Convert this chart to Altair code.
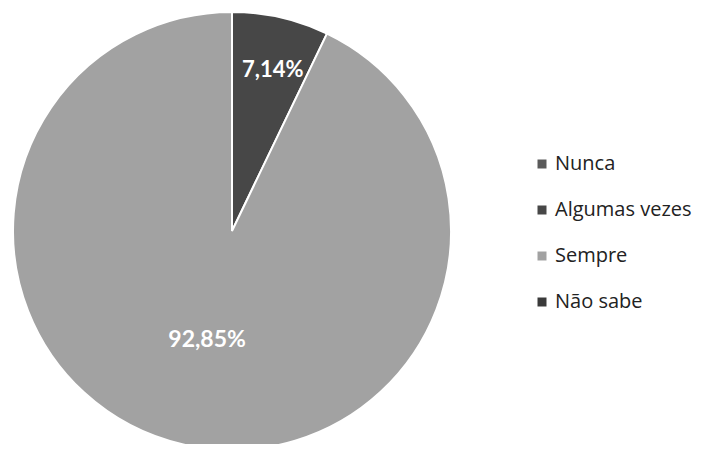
import altair as alt
import pandas as pd

categories = ["Nunca", "Algumas vezes", "Sempre", "Não sabe"]
values = [0.0, 7.14, 92.85, 0.0]
labels = ["", "7,14%", "92,85%", ""]
colors = ["#5a5a5a", "#474747", "#a2a2a2", "#3a3a3a"]

df = pd.DataFrame({
    "cat": categories,
    "val": values,
    "label": labels,
    "idx": list(range(len(categories))),
})

cx, cy = 224, 223

base = alt.Chart(df).encode(
    theta=alt.Theta("val:Q", stack=True),
    order=alt.Order("idx:Q"),
)

pie = base.mark_arc(radius=219, stroke="white", strokeWidth=2).encode(
    x=alt.value(cx), y=alt.value(cy),
    color=alt.Color(
        "cat:N",
        scale=alt.Scale(domain=categories, range=colors),
        sort=categories,
        legend=alt.Legend(
            title=None, orient="none", legendX=524, legendY=146,
            symbolType="square", symbolSize=81, symbolStrokeWidth=0,
            labelFont="Open Sans", labelFontSize=20, labelLimit=300,
            labelColor="#222222",
            rowPadding=26, labelOffset=3,
        ),
    ),
)

small = base.transform_calculate(
    t="datum.cat == 'Algumas vezes' ? datum.label : ''"
).mark_text(
    radius=165, font="Lato", fontSize=22, fontWeight="bold", color="white", dx=4
).encode(x=alt.value(cx), y=alt.value(cy), text="t:N")

big = base.transform_calculate(
    t="datum.cat == 'Sempre' ? datum.label : ''"
).mark_text(
    radius=112, font="Lato", fontSize=23, fontWeight="bold", color="white"
).encode(x=alt.value(cx), y=alt.value(cy), text="t:N")

chart = alt.layer(pie, small, big).properties(
    width=689, height=436, autosize="none", padding=0, background="white"
).configure_view(stroke=None)

chart.save("out.html", embed_options={"renderer": "svg", "actions": False})
